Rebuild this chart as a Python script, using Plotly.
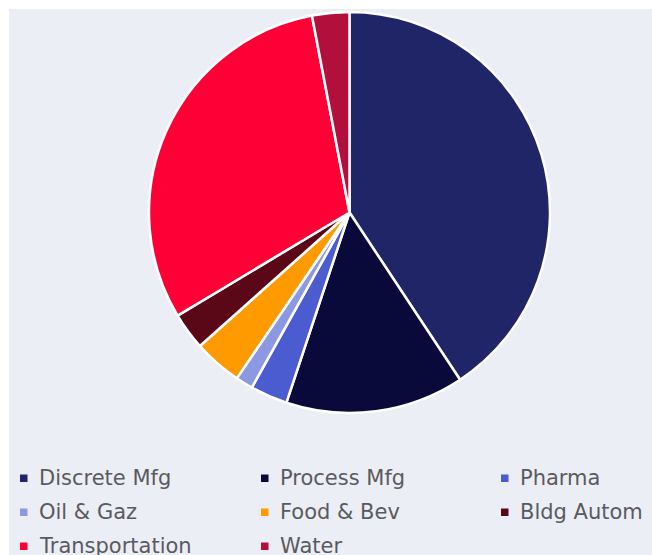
import plotly.graph_objects as go

# Share of installed base by industry segment (percent)
segments = ["Discrete Mfg", "Process Mfg", "Pharma", "Oil & Gaz",
            "Food & Bev", "Bldg Autom", "Transportation", "Water"]
shares = [40.7, 14.4, 3.0, 1.4, 3.9, 3.0, 30.6, 3.0]
colors = ["#1F2566", "#0A0A3A", "#4B5BD0", "#8C98E2",
          "#FF9A00", "#5A0818", "#FF0036", "#B30F3D"]

W, H = 652, 555
BG = "#ECEEF5"

fig = go.Figure(
    go.Pie(
        labels=segments,
        values=shares,
        sort=False,
        direction="clockwise",
        rotation=0,
        textinfo="none",
        hoverinfo="label+percent",
        marker=dict(colors=colors, line=dict(color="white", width=2.5)),
        domain=dict(x=[148 / W, 551 / W], y=[1 - 413 / H, 1 - 12 / H]),
        showlegend=False,
    )
)

# light panel behind everything, leaving a thin white frame top/left
shapes = [dict(type="rect", xref="paper", yref="paper",
               x0=9 / W, x1=1.01, y0=-0.01, y1=1 - 9 / H,
               fillcolor=BG, line=dict(width=0), layer="below")]

# three-column legend under the pie
col_x = [37, 278, 518]
row_y = [478, 512, 546]
annotations = []
for i, (name, col) in enumerate(zip(segments, colors)):
    cx = col_x[i % 3]
    cy = row_y[i // 3]
    shapes.append(dict(type="rect", xref="paper", yref="paper",
                       x0=(cx - 17) / W, x1=(cx - 9.5) / W,
                       y0=1 - (cy + 4) / H, y1=1 - (cy - 3.5) / H,
                       fillcolor=col, line=dict(width=0)))
    annotations.append(dict(x=cx / W, y=1 - cy / H, xref="paper", yref="paper",
                            text=name, showarrow=False, xanchor="left",
                            yanchor="middle",
                            font=dict(family="DejaVu Sans", size=21,
                                      color="#5A5A5E")))

fig.update_layout(
    width=W, height=H,
    margin=dict(l=0, r=0, t=0, b=0),
    paper_bgcolor="white",
    plot_bgcolor=BG,
    shapes=shapes,
    annotations=annotations,
)

fig.write_html("out.html")
